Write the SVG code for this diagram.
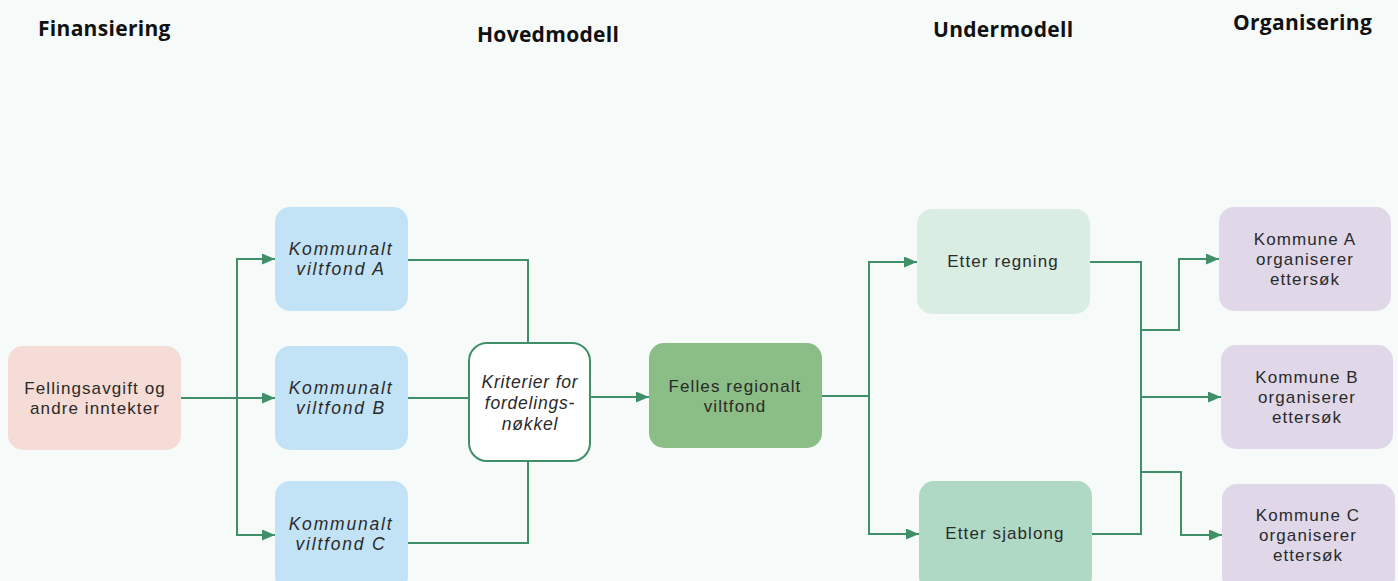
<svg xmlns="http://www.w3.org/2000/svg" width="1398" height="581" viewBox="0 0 1398 581">
  <defs>
    <marker id="arrow" viewBox="0 0 13 11" refX="13" refY="5.5" markerWidth="13" markerHeight="11" markerUnits="userSpaceOnUse" orient="auto">
      <path d="M0,0 L13,5.5 L0,11 Z" fill="#3f9068"/>
    </marker>
    <style>
      .hdr { font-family: "Open Sans", "Liberation Sans", sans-serif; font-weight: 700; font-size: 21px; letter-spacing: 0.3px; fill: #111; }
      .lbl { font-family: "Liberation Sans", Arial, sans-serif; font-size: 17px; letter-spacing: 1.1px; fill: #2a2a2a; text-anchor: middle; }
      .it { font-style: italic; font-size: 17.5px; letter-spacing: 1.8px; }
      .tight { letter-spacing: 0.8px; }
      .conn { fill: none; stroke: #3f9068; stroke-width: 2; }
    </style>
  </defs>
  <rect width="1398" height="581" fill="#f6faf9"/>

  <!-- column headings -->
  <text class="hdr" x="38" y="36">Finansiering</text>
  <text class="hdr" x="477" y="42">Hovedmodell</text>
  <text class="hdr" x="933" y="37">Undermodell</text>
  <text class="hdr" x="1233" y="30">Organisering</text>

  <!-- connectors -->
  <g id="connectors">
    <path class="conn" d="M181,398 H275" marker-end="url(#arrow)"/>
    <path class="conn" d="M237,398 V259 H275" marker-end="url(#arrow)"/>
    <path class="conn" d="M237,398 V535 H275" marker-end="url(#arrow)"/>
    <path class="conn" d="M408,260 H528 V343"/>
    <path class="conn" d="M408,398 H469"/>
    <path class="conn" d="M408,543 H528 V461"/>
    <path class="conn" d="M590,397 H649" marker-end="url(#arrow)"/>
    <path class="conn" d="M822,396 H869 V262 H917" marker-end="url(#arrow)"/>
    <path class="conn" d="M869,396 V534 H919" marker-end="url(#arrow)"/>
    <path class="conn" d="M1090,262 H1141 V534 H1092"/>
    <path class="conn" d="M1140,330 H1179 V259 H1219" marker-end="url(#arrow)"/>
    <path class="conn" d="M1141,397 H1221" marker-end="url(#arrow)"/>
    <path class="conn" d="M1140,472 H1181 V535 H1222" marker-end="url(#arrow)"/>
  </g>

  <g id="fellingsavgift">
    <rect x="8" y="346" width="173" height="104" rx="15" fill="#f5dcd6"/>
    <text class="lbl" x="95" y="394">Fellingsavgift og</text>
    <text class="lbl" x="95" y="414">andre inntekter</text>
  </g>

  <g id="fond-a">
    <rect x="275" y="207" width="133" height="104" rx="15" fill="#c2e3f5"/>
    <text class="lbl it" x="341" y="255">Kommunalt</text>
    <text class="lbl it" x="341" y="275">viltfond A</text>
  </g>
  <g id="fond-b">
    <rect x="275" y="346" width="133" height="104" rx="15" fill="#c2e3f5"/>
    <text class="lbl it" x="341" y="394">Kommunalt</text>
    <text class="lbl it" x="341" y="414">viltfond B</text>
  </g>
  <g id="fond-c">
    <rect x="275" y="481" width="133" height="110" rx="15" fill="#c2e3f5"/>
    <text class="lbl it" x="341" y="530">Kommunalt</text>
    <text class="lbl it" x="341" y="550">viltfond C</text>
  </g>

  <g id="kriterier">
    <rect x="469" y="343" width="121" height="118" rx="18" fill="#ffffff" stroke="#3f9068" stroke-width="2"/>
    <text class="lbl it tight" x="530" y="388">Kriterier for</text>
    <text class="lbl it tight" x="530" y="409">fordelings-</text>
    <text class="lbl it tight" x="530" y="430">nøkkel</text>
  </g>

  <g id="felles">
    <rect x="649" y="343" width="173" height="105" rx="15" fill="#8bbd86"/>
    <text class="lbl" x="735" y="392">Felles regionalt</text>
    <text class="lbl" x="735" y="412">viltfond</text>
  </g>

  <g id="etter-regning">
    <rect x="917" y="209" width="173" height="105" rx="15" fill="#daede3"/>
    <text class="lbl" x="1003" y="267">Etter regning</text>
  </g>
  <g id="etter-sjablong">
    <rect x="919" y="481" width="173" height="110" rx="15" fill="#afd9c5"/>
    <text class="lbl" x="1005" y="539">Etter sjablong</text>
  </g>

  <g id="kommune-a">
    <rect x="1219" y="207" width="172" height="104" rx="15" fill="#e0d8e9"/>
    <text class="lbl" x="1305" y="245">Kommune A</text>
    <text class="lbl" x="1305" y="265">organiserer</text>
    <text class="lbl" x="1305" y="285">ettersøk</text>
  </g>
  <g id="kommune-b">
    <rect x="1221" y="345" width="172" height="104" rx="15" fill="#e0d8e9"/>
    <text class="lbl" x="1307" y="383">Kommune B</text>
    <text class="lbl" x="1307" y="403">organiserer</text>
    <text class="lbl" x="1307" y="423">ettersøk</text>
  </g>
  <g id="kommune-c">
    <rect x="1222" y="484" width="173" height="107" rx="15" fill="#e0d8e9"/>
    <text class="lbl" x="1308" y="521">Kommune C</text>
    <text class="lbl" x="1308" y="541">organiserer</text>
    <text class="lbl" x="1308" y="561">ettersøk</text>
  </g>
</svg>
